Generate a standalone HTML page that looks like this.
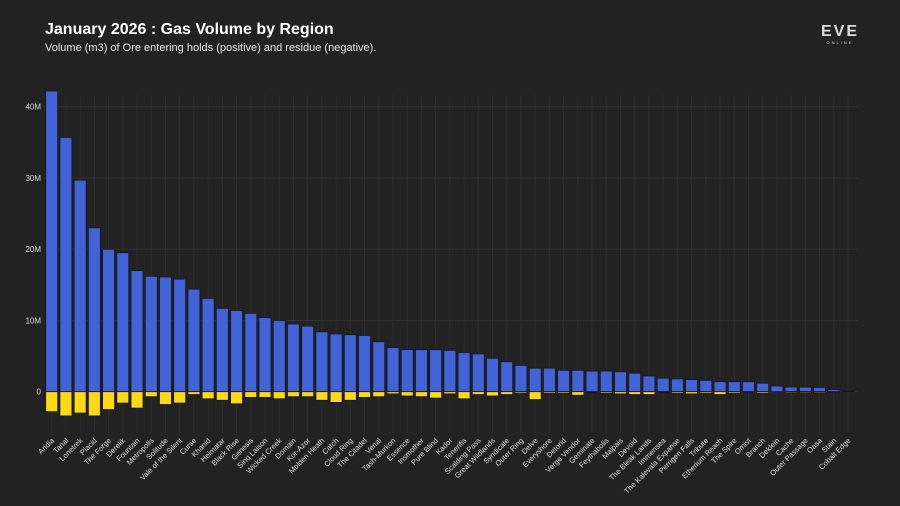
<!DOCTYPE html>
<html><head><meta charset="utf-8"><style>
html,body{margin:0;padding:0;background:#222222;}
body{width:900px;height:506px;overflow:hidden;position:relative;font-family:"Liberation Sans",sans-serif;}
#title{position:absolute;left:45px;top:21px;color:#fff;font-weight:bold;font-size:16px;}
#subtitle{position:absolute;left:45px;top:42px;color:#e8e8e8;font-size:11px;}
#logo{position:absolute;left:813px;top:24px;color:#ddd;text-align:center;width:54px;}
svg{position:absolute;left:0;top:0;}
</style></head><body>
<div id="title">January 2026 : Gas Volume by Region</div>
<div id="subtitle">Volume (m3) of Ore entering holds (positive) and residue (negative).</div>
<div id="logo"><div style="font-size:16px;font-weight:bold;letter-spacing:2px;line-height:16px;">EVE</div><div style="font-size:4px;letter-spacing:2px;line-height:6px;">ONLINE</div></div>
<svg id="chart" width="900" height="506"></svg>
<script>
const categories=["Aridia","Tanal","Lonetrek","Placid","The Forge","Derelik","Fountain","Metropolis","Solitude","Vale of the Silent","Curse","Khanid","Heimatar","Black Rise","Genesis","Sinq Laison","Wicked Creek","Domain","Kor-Azor","Molden Heath","Catch","Cloud Ring","The Citadel","Venal","Tash-Murkon","Essence","Insmother","Pure Blind","Kador","Tenerifis","Scalding Pass","Great Wildlands","Syndicate","Outer Ring","Delve","Everyshore","Detorid","Verge Vendor","Geminate","Feythabolis","Malpais","Devoid","The Bleak Lands","Immensea","The Kalevala Expanse","Perrigen Falls","Tribute","Etherium Reach","The Spire","Omist","Branch","Deklein","Cache","Outer Passage","Oasa","Stain","Cobalt Edge"];
const positiveM=[42.2,35.7,29.7,23.0,20.0,19.5,17.0,16.2,16.1,15.8,14.4,13.1,11.7,11.4,11.0,10.4,10.0,9.5,9.2,8.4,8.1,8.0,7.9,7.0,6.2,5.9,5.9,5.9,5.8,5.5,5.3,4.7,4.2,3.7,3.3,3.3,3.0,3.0,2.9,2.9,2.8,2.6,2.2,1.9,1.8,1.7,1.6,1.4,1.4,1.4,1.2,0.8,0.65,0.65,0.6,0.3,0.1];
const residueM=[-2.8,-3.4,-3.0,-3.4,-2.5,-1.6,-2.3,-0.7,-1.8,-1.6,-0.4,-1.0,-1.2,-1.7,-0.8,-0.8,-1.0,-0.7,-0.7,-1.2,-1.5,-1.2,-0.8,-0.7,-0.3,-0.6,-0.7,-0.9,-0.3,-1.0,-0.4,-0.6,-0.4,-0.2,-1.1,-0.2,-0.2,-0.5,-0.1,-0.2,-0.3,-0.4,-0.4,-0.1,-0.2,-0.3,-0.2,-0.4,-0.2,-0.05,-0.2,0,-0.15,-0.15,-0.15,-0.05,0];
const yTicks=[0,10,20,30,40];
const yTickLabels=["0","10M","20M","30M","40M"];

const NS="http://www.w3.org/2000/svg";
const svg=document.getElementById('chart');
const x0=51.7, step=14.22, zeroY=391.7, pxPerM=7.125, barW=12;
const xPos=i=>x0+i*step;
const yPos=v=>zeroY-v*pxPerM;
function mk(tag,attrs){const e=document.createElementNS(NS,tag);for(const k in attrs)e.setAttribute(k,attrs[k]);svg.appendChild(e);return e;}
categories.forEach((c,i)=>{
  const g=mk('line',{x1:xPos(i),x2:xPos(i),y1:95,y2:433,stroke:'#2e2e2e','stroke-width':1});
  
  
});
yTicks.forEach((t,i)=>{
  const g=mk('line',{x1:44,x2:858,y1:yPos(t),y2:yPos(t),stroke:'#333','stroke-width':1});
  
  
  const l=mk('text',{x:41,y:yPos(t)+3,'text-anchor':'end',fill:'#ddd','font-size':8,'font-family':'Liberation Sans, sans-serif'});
  l.textContent=yTickLabels[i];
  
  
});
categories.forEach((c,i)=>{
  const xc=xPos(i);
  const p=positiveM[i], n=residueM[i];
  const b=mk('rect',{x:xc-barW/2,y:yPos(p),width:barW,height:Math.max(0,zeroY-yPos(p)),fill:'#4263d8',stroke:'#151515','stroke-width':0.8});
  
  
  const r=mk('rect',{x:xc-barW/2,y:zeroY,width:barW,height:Math.max(0,yPos(n)-zeroY),fill:'#fbd915',stroke:'#151515','stroke-width':0.8});
  
  
  const tx=xc+3, ty=441;
  const t=mk('text',{x:tx,y:ty,'text-anchor':'end',fill:'#ddd','font-size':7.5,'font-family':'Liberation Sans, sans-serif',transform:`rotate(-45 ${tx} ${ty})`});
  t.textContent=c;
  
  
});
</script>
</body></html>
